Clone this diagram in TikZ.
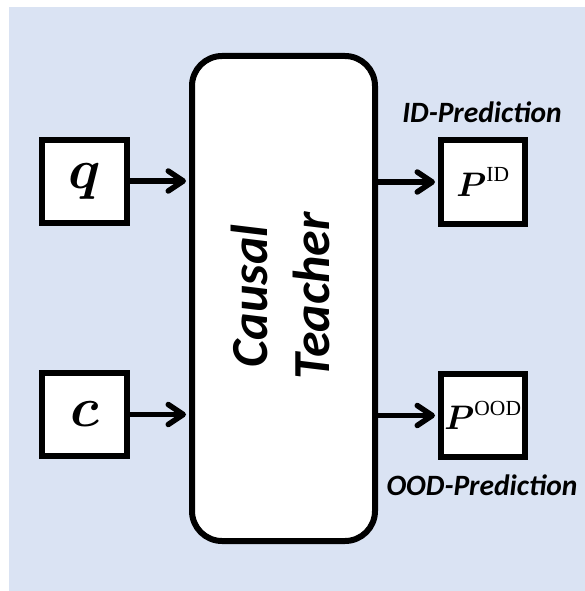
\RequirePackage{fix-cm}
\documentclass[tikz,border=0pt]{standalone}
\usepackage{amsmath}
\usepackage{fontspec}
\newfontfamily\labfont{Carlito}
\newfontfamily\supfont{Liberation Serif}
\newcommand{\suptag}[1]{\mbox{\supfont\fontsize{21.5}{22}\selectfont #1}}
\usetikzlibrary{arrows.meta}
\definecolor{panel}{HTML}{DAE3F3}
\tikzset{
  box/.style={draw=black, line width=6pt, fill=white, minimum width=85pt, minimum height=83pt, inner sep=0pt},
  teacher/.style={draw=black, line width=6pt, fill=white, rounded corners=30pt, minimum width=183pt, minimum height=485pt, inner sep=0pt},
  flow/.style={line width=5.5pt, -{Straight Barb[length=15pt, width=20pt, line width=5.5pt, round]}, shorten >=3pt},
  tag/.style={font=\labfont\bfseries\itshape\fontsize{29.5}{32}\selectfont, inner sep=0pt},
  sym/.style={font=\fontsize{56}{60}\selectfont, inner sep=0pt},
  psym/.style={font=\fontsize{34}{38}\selectfont, inner sep=0pt}
}
\begin{document}
\begin{tikzpicture}[x=1pt, y=-1pt]
  \useasboundingbox (0,0) rectangle (585,591);
  \fill[panel] (9,7) rectangle (585,591);

  % central model
  \node[teacher] (ct) at (283.5,298.5) {};
  \node[rotate=90, align=center, font=\labfont\bfseries\itshape\fontsize{52}{62}\selectfont] (ctl) at (280,296) {Causal\\Teacher};

  % inputs
  \node[box] (q) at (84.5,181) {};
  \node[sym] at (q.center) {$\boldsymbol{q}$};
  \node[box] (c) at (84.5,414.5) {};
  \node[sym] at (c.center) {$\boldsymbol{c}$};

  % outputs
  \node[box, minimum width=84pt, minimum height=84pt] (pid) at (483,182) {};
  \node[psym] at (pid.center) {$\boldsymbol{P}^{\suptag{ID}}$};
  \node[box, minimum width=84pt, minimum height=83pt] (pood) at (483,415.5) {};
  \node[psym] at (pood.center) {$\boldsymbol{P}^{\suptag{OOD}}$};

  \node[tag] (idl) at (482,112) {ID-Prediction};
  \node[tag] (oodl) at (482,485) {OOD-Prediction};

  % connectors
  \draw[flow] (q.east) -- (q.east -| ct.west);
  \draw[flow] (c.east) -- (c.east -| ct.west);
  \draw[flow] (pid.west -| ct.east) -- (pid.west);
  \draw[flow] (pood.west -| ct.east) -- (pood.west);
\end{tikzpicture}
\end{document}
